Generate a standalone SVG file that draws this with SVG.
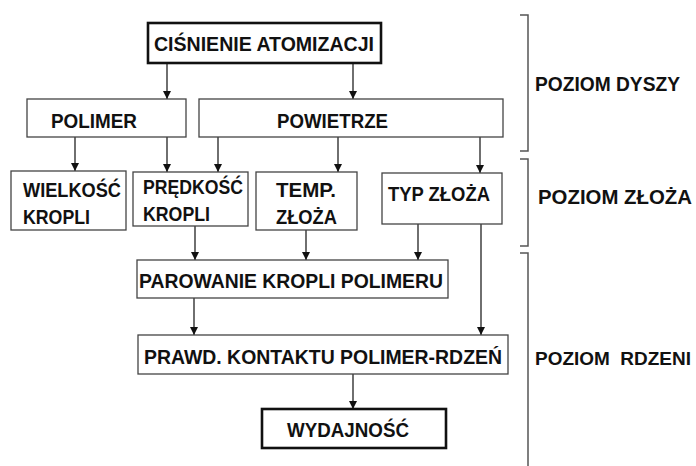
<svg xmlns="http://www.w3.org/2000/svg" width="696" height="466" viewBox="0 0 696 466">
<style>
.box{fill:#fff;stroke:#444;stroke-width:1.3}
.thick{fill:#fff;stroke:#111;stroke-width:2.6}
.t{font-family:"Liberation Sans",Arial,sans-serif;font-weight:bold;font-size:21px;fill:#111}
.lv{font-size:19.5px}
.c{stroke:#222;stroke-width:1.3;fill:none}
.br{stroke:#555;stroke-width:1.5;fill:none}
</style>
<defs>
<marker id="ah" viewBox="0 0 10 10" refX="10" refY="5" markerWidth="8" markerHeight="8" markerUnits="userSpaceOnUse" orient="auto">
<path d="M0,0 L10,5 L0,10 z" fill="#111"/>
</marker>
</defs>
<g id="connectors">
<path class="c" d="M167,63 V99" marker-end="url(#ah)"/>
<path class="c" d="M353,63 V99" marker-end="url(#ah)"/>
<path class="c" d="M75,137 V171" marker-end="url(#ah)"/>
<path class="c" d="M167,137 V172" marker-end="url(#ah)"/>
<path class="c" d="M218,137 V172" marker-end="url(#ah)"/>
<path class="c" d="M338,137 V172" marker-end="url(#ah)"/>
<path class="c" d="M480,137 V173" marker-end="url(#ah)"/>
<path class="c" d="M195,226 V260" marker-end="url(#ah)"/>
<path class="c" d="M306,230 V260" marker-end="url(#ah)"/>
<path class="c" d="M418,224 V260" marker-end="url(#ah)"/>
<path class="c" d="M481,224 V335" marker-end="url(#ah)"/>
<path class="c" d="M194,298 V335" marker-end="url(#ah)"/>
<path class="c" d="M353,374 V409" marker-end="url(#ah)"/>
</g>
<g id="n-cisnienie"><rect class="thick" x="148" y="23" width="233" height="40"/><text class="t" x="154" y="51" textLength="220" lengthAdjust="spacingAndGlyphs">CIŚNIENIE ATOMIZACJI</text></g>
<g id="n-polimer"><rect class="box" x="27" y="99" width="159" height="38"/><text class="t" x="51" y="128" textLength="86" lengthAdjust="spacingAndGlyphs">POLIMER</text></g>
<g id="n-powietrze"><rect class="box" x="199" y="99" width="304" height="38"/><text class="t" x="277" y="128" textLength="111" lengthAdjust="spacingAndGlyphs">POWIETRZE</text></g>
<g id="n-wielkosc"><rect class="box" x="11" y="171" width="115" height="59"/><text class="t" x="23" y="197" textLength="98" lengthAdjust="spacingAndGlyphs">WIELKOŚĆ</text><text class="t" x="23" y="224" textLength="67" lengthAdjust="spacingAndGlyphs">KROPLI</text></g>
<g id="n-predkosc"><rect class="box" x="133" y="172" width="115" height="54"/><text class="t" x="143" y="194" textLength="100" lengthAdjust="spacingAndGlyphs">PRĘDKOŚĆ</text><text class="t" x="143" y="221" textLength="67" lengthAdjust="spacingAndGlyphs">KROPLI</text></g>
<g id="n-temp"><rect class="box" x="256" y="172" width="101" height="58"/><text class="t" x="276" y="197" textLength="60" lengthAdjust="spacingAndGlyphs">TEMP.</text><text class="t" x="276" y="224" textLength="61" lengthAdjust="spacingAndGlyphs">ZŁOŻA</text></g>
<g id="n-typ"><rect class="box" x="382" y="173" width="120" height="51"/><text class="t" x="388" y="201" textLength="102" lengthAdjust="spacingAndGlyphs">TYP ZŁOŻA</text></g>
<g id="n-parowanie"><rect class="box" x="137" y="260" width="311" height="38"/><text class="t" x="139" y="288" textLength="304" lengthAdjust="spacingAndGlyphs">PAROWANIE KROPLI POLIMERU</text></g>
<g id="n-prawd"><rect class="box" x="138" y="335" width="370" height="39"/><text class="t" x="144" y="364" textLength="358" lengthAdjust="spacingAndGlyphs">PRAWD. KONTAKTU POLIMER-RDZEŃ</text></g>
<g id="n-wydajnosc"><rect class="thick" x="262" y="409" width="184" height="39"/><text class="t" x="287" y="437" textLength="122" lengthAdjust="spacingAndGlyphs">WYDAJNOŚĆ</text></g>
<g id="levels">
<path class="br" d="M520,15 H528 V151 H520"/>
<path class="br" d="M520,159 H528 V246 H520"/>
<path class="br" d="M520,253 H528 V470"/>
<text class="t lv" x="535" y="91" textLength="145" lengthAdjust="spacingAndGlyphs">POZIOM DYSZY</text>
<text class="t lv" x="538" y="204" textLength="154" lengthAdjust="spacingAndGlyphs">POZIOM ZŁOŻA</text>
<text class="t" x="535" y="365" style="font-size:19px" textLength="156" lengthAdjust="spacingAndGlyphs" xml:space="preserve">POZIOM  RDZENI</text>
</g>
</svg>
